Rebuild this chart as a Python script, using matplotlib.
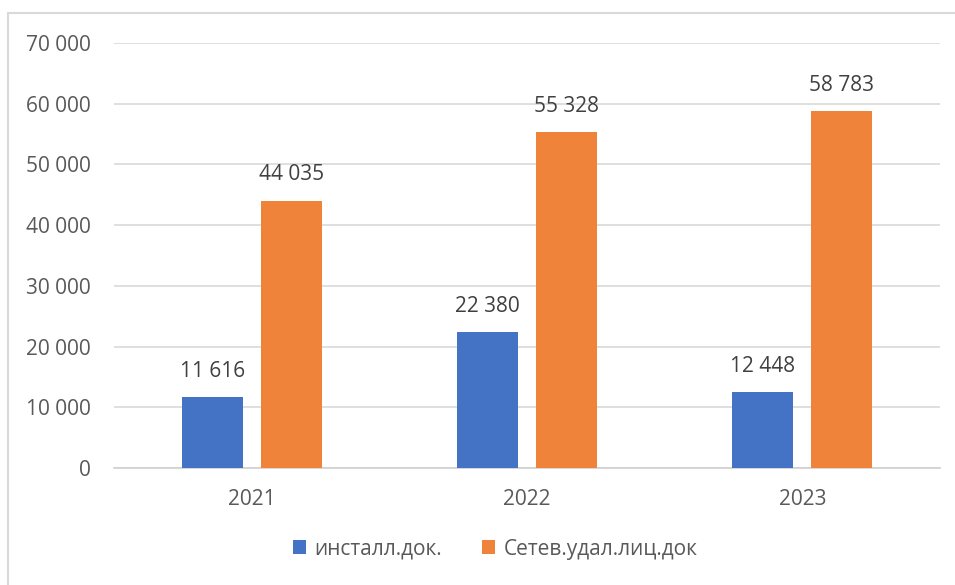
import numpy as np
import matplotlib.pyplot as plt
from matplotlib.patches import Rectangle

years = ['2021', '2022', '2023']
install_docs = [11616, 22380, 12448]
network_docs = [44035, 55328, 58783]
series_names = ['инсталл.док.', 'Сетев.удал.лиц.док']

plt.rcParams['font.family'] = ['Open Sans', 'DejaVu Sans']

def fmt(v):
    return '{:,}'.format(int(v)).replace(',', ' ')

fig = plt.figure(figsize=(9.55, 5.85), dpi=100)
# outer chart border
fig.add_artist(Rectangle((8/955, -0.05), 1.0, 1 - 13/585 + 0.05, transform=fig.transFigure,
                         fill=False, edgecolor='#d9d9d9', linewidth=1.5))

ax = fig.add_axes([114/955, 1 - 468/585, 826/955, (468 - 43)/585])
x = np.arange(len(years))
w = 0.222
off = 0.1436
b1 = ax.bar(x - off, install_docs, w, color='#4472C4', label=series_names[0], zorder=3)
b2 = ax.bar(x + off, network_docs, w, color='#F0833A', label=series_names[1], zorder=3)

for bars, vals in ((b1, install_docs), (b2, network_docs)):
    for r, v in zip(bars, vals):
        ax.annotate(fmt(v), (r.get_x() + r.get_width()/2, v), xytext=(0, 11),
                    textcoords='offset points', ha='center', va='bottom',
                    fontsize=15, color='#404040')

ax.set_xlim(-0.5, 2.5)
ax.set_ylim(0, 70000)
ax.set_yticks(range(0, 70001, 10000))
ax.set_yticklabels([fmt(v) for v in range(0, 70001, 10000)])
ax.set_xticks(x)
ax.set_xticklabels(years)
ax.tick_params(axis='y', length=0, pad=17, labelsize=15, labelcolor='#595959')
ax.tick_params(axis='x', length=0, pad=15, labelsize=15, labelcolor='#595959')
ax.grid(axis='y', color='#d9d9d9', linewidth=1.2, zorder=0)
for s in ['top', 'right', 'left']:
    ax.spines[s].set_visible(False)
ax.spines['bottom'].set_color('#d0d0d0')
ax.spines['bottom'].set_linewidth(1.2)

fig.legend(loc='center', bbox_to_anchor=(495/955, 1 - 549/585), ncol=2, frameon=False,
           fontsize=15, handlelength=0.65, handleheight=0.65, handletextpad=0.4,
           columnspacing=1.9, labelcolor='#595959')

fig.savefig('out.png', dpi=100)
